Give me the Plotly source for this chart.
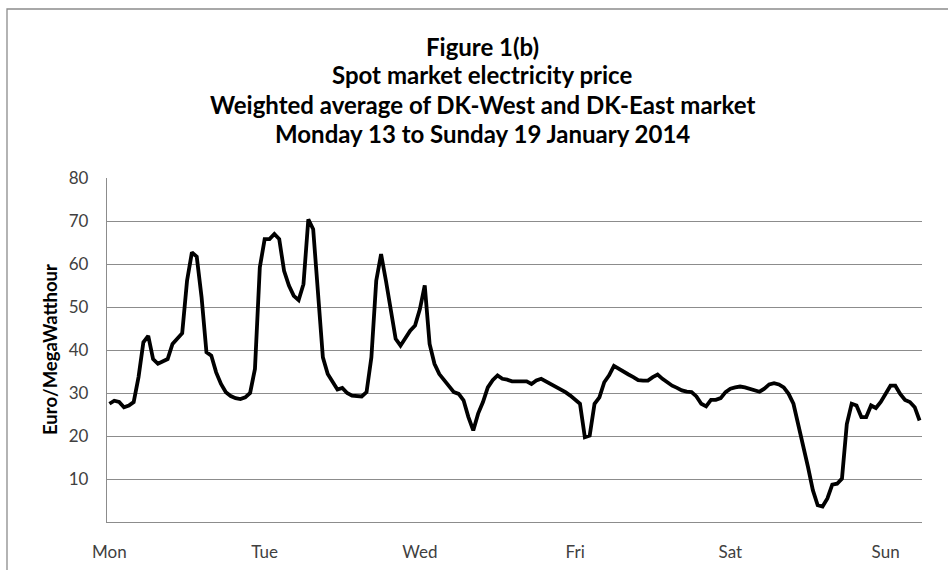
import plotly.graph_objects as go

hours = list(range(168))
price = [
    27.5, 28.2, 27.9, 26.7, 27.1, 27.9, 33.7, 41.8, 43.3, 37.9, 36.8, 37.4,
    37.9, 41.4, 42.6, 43.9, 56.1, 62.7, 61.7, 52.2, 39.5, 38.7, 34.8, 32.1,
    30.2, 29.3, 28.8, 28.6, 29.0, 30.0, 35.6, 59.2, 65.8, 65.8, 67.0, 65.8,
    58.4, 55.0, 52.6, 51.6, 55.3, 70.4, 68.1, 53.0, 38.3, 34.4, 32.5, 30.8,
    31.2, 30.0, 29.4, 29.3, 29.2, 30.2, 38.3, 56.1, 62.3, 56.1, 49.1, 42.6,
    41.0, 42.6, 44.5, 45.7, 49.5, 55.0, 41.4, 36.8, 34.4, 33.0, 31.5, 30.2,
    29.8, 28.3, 24.4, 21.3, 25.2, 27.9, 31.3, 33.0, 34.1, 33.3, 33.1, 32.7,
    32.7, 32.7, 32.7, 32.1, 32.9, 33.3, 32.7, 32.1, 31.5, 31.0, 30.2, 29.4,
    28.4, 27.5, 19.7, 20.1, 27.5, 29.0, 32.5, 34.1, 36.3, 35.6, 34.8, 34.3,
    33.7, 33.0, 32.9, 32.9, 33.7, 34.3, 33.3, 32.5, 31.7, 31.2, 30.6, 30.3,
    30.2, 29.2, 27.5, 26.9, 28.4, 28.4, 28.8, 30.2, 31.0, 31.3, 31.5, 31.3,
    31.0, 30.6, 30.3, 31.0, 32.0, 32.3, 32.0, 31.3, 29.8, 27.5, 22.8, 17.4,
    12.8, 7.4, 3.9, 3.6, 5.5, 8.7, 8.9, 10.1, 22.8, 27.5, 27.1, 24.4,
    24.4, 27.1, 26.5, 27.9, 30.0, 31.7, 31.7, 29.8, 28.4, 27.9, 26.7, 23.6,
]
tick_positions = [0, 32, 64, 96, 128, 160]
tick_labels = ["Mon", "Tue", "Wed", "Fri", "Sat", "Sun"]
y_ticks = [10, 20, 30, 40, 50, 60, 70, 80]
title_lines = [
    "Figure 1(b)",
    "Spot market electricity price",
    "Weighted average of DK-West and DK-East market",
    "Monday 13 to Sunday 19 January 2014",
]
y_title = "Euro/MegaWatthour"

FONT = "Lato"
GRID = "#8c8c8c"
TXT = "#404040"

fig = go.Figure()
fig.add_trace(go.Scatter(
    x=hours, y=price, mode="lines",
    line=dict(color="black", width=3.8, shape="linear"),
    showlegend=False, hoverinfo="x+y",
))

W, H = 948, 570
L, R, T, B = 107, 26, 178, 48
pw, ph = W - L - R, H - T - B

fig.update_layout(
    width=W, height=H,
    margin=dict(l=L, r=R, t=T, b=B, autoexpand=False),
    paper_bgcolor="white", plot_bgcolor="white",
    font=dict(family=FONT, color=TXT),
    xaxis=dict(
        range=[-0.5, 167.5], tickvals=tick_positions, ticktext=tick_labels,
        showgrid=False, zeroline=False, showline=True, linecolor=GRID, linewidth=1.3,
        ticks="", tickfont=dict(size=17, color=TXT, family=FONT),
        ticklabelstandoff=14, fixedrange=True, automargin=False,
    ),
    yaxis=dict(
        range=[0, 80], tickvals=y_ticks, showgrid=True, gridcolor=GRID, gridwidth=1.3,
        zeroline=False, showline=True, linecolor=GRID, linewidth=1.3,
        ticks="", tickfont=dict(size=17, color=TXT, family=FONT),
        ticklabelstandoff=14, fixedrange=True, automargin=False,
    ),
)

# title lines
title_y = [46, 75, 104, 133]
for txt, py in zip(title_lines, title_y):
    fig.add_annotation(
        text="<b>" + txt + "</b>", xref="paper", yref="paper",
        x=(482 - L) / pw, y=(H - B - py) / ph, xanchor="center", yanchor="middle",
        showarrow=False, font=dict(family=FONT, size=24, color="black"),
    )

# y-axis title
fig.add_annotation(
    text="<b>" + y_title + "</b>", xref="paper", yref="paper",
    x=(50 - L) / pw, y=0.5, xanchor="center", yanchor="middle", textangle=-90,
    showarrow=False, font=dict(family=FONT, size=18.5, color="black"),
)

# outer chart frame
fig.add_shape(
    type="rect", xref="paper", yref="paper",
    x0=(7 - L) / pw, x1=(970 - L) / pw, y0=(H - B - 600) / ph, y1=(H - B - 9) / ph,
    line=dict(color="#8c8c8c", width=1.3), fillcolor="rgba(0,0,0,0)", layer="below",
)

fig.write_html(
    "out.html",
    config={"displayModeBar": False},
    post_script="document.body.style.margin='0px';document.body.style.overflow='hidden';",
)
